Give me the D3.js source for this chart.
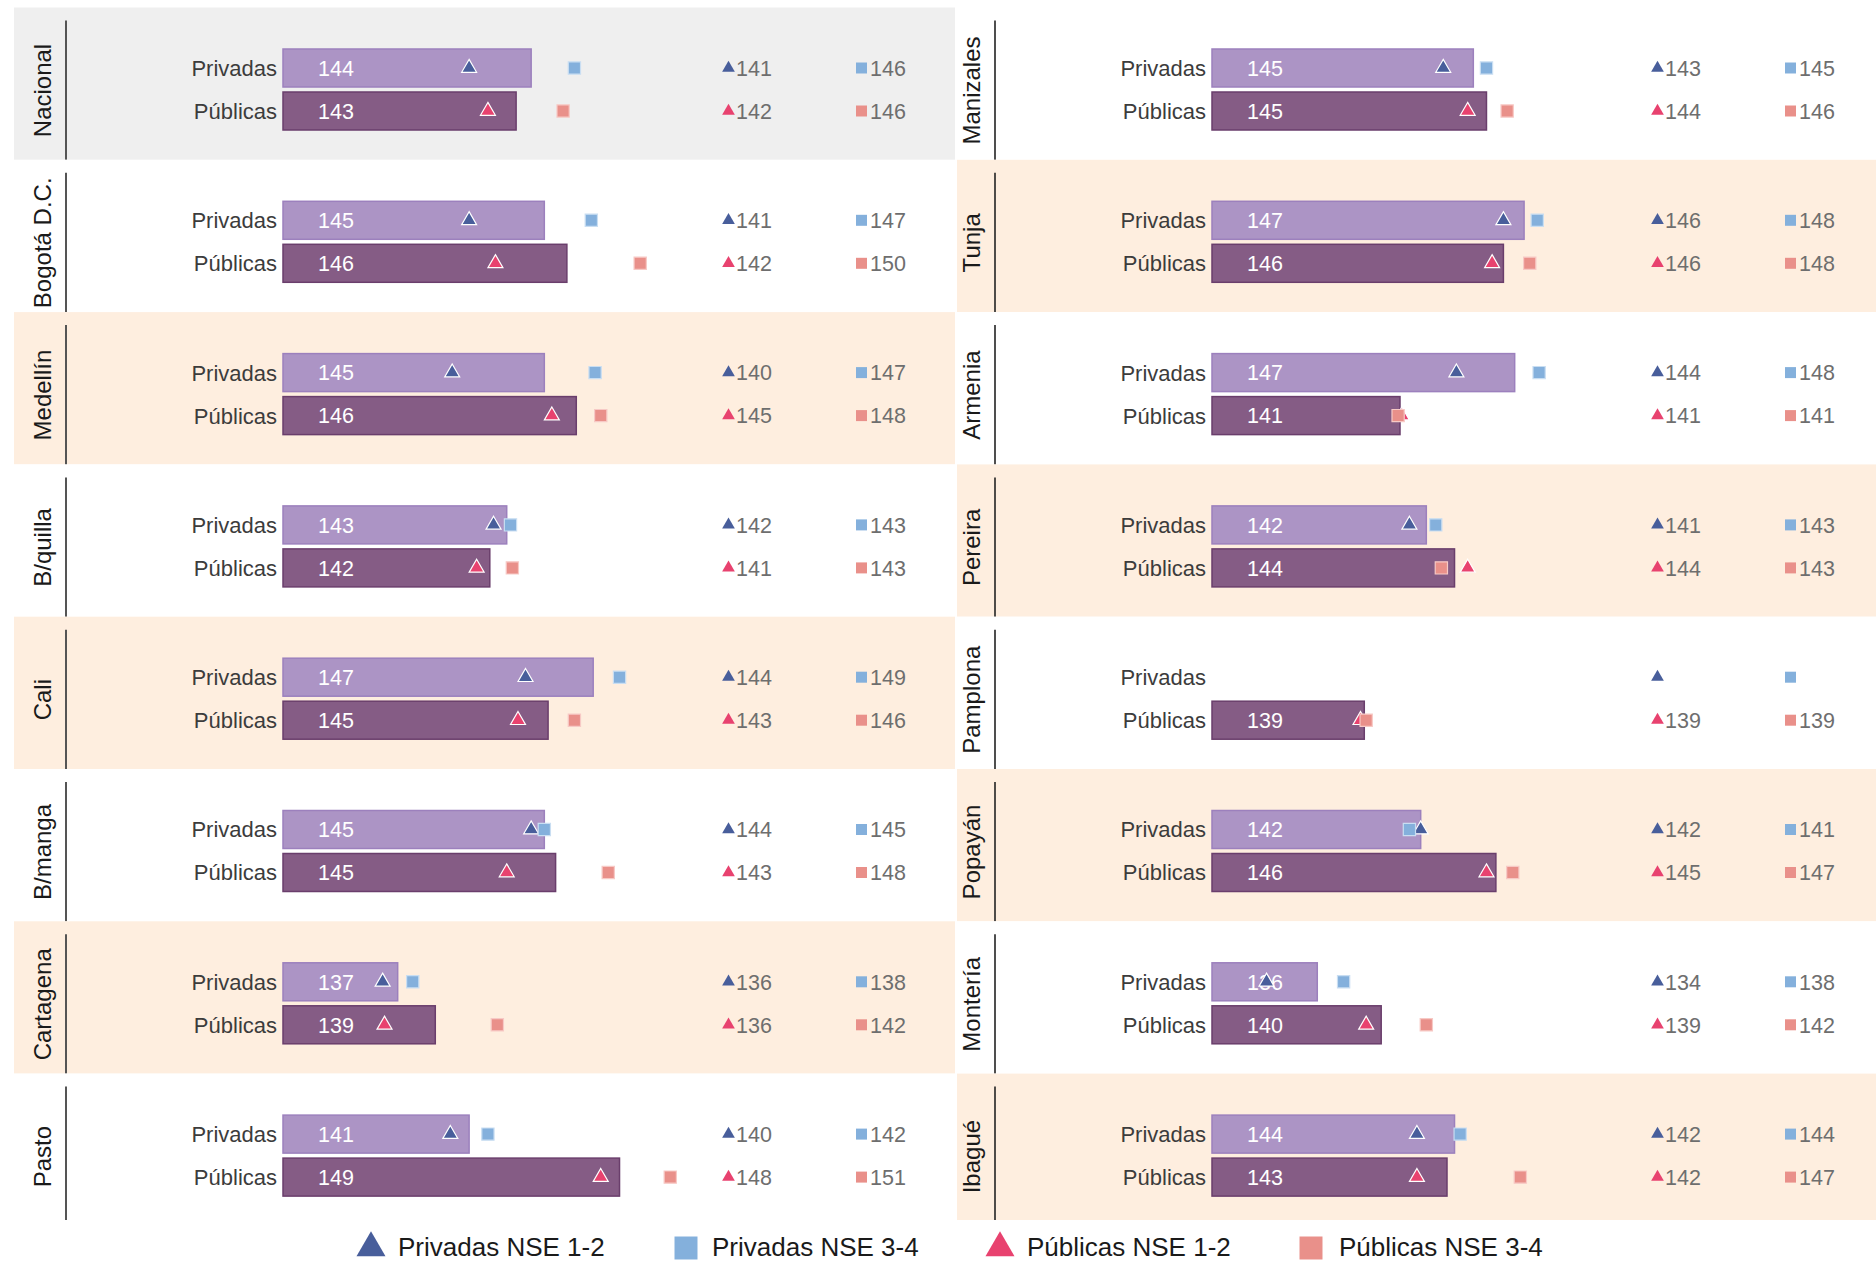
<!DOCTYPE html>
<html><head><meta charset="utf-8">
<script src="https://cdn.jsdelivr.net/npm/d3@7"></script>
<style>
body{margin:0;background:#fff;}
svg{display:block;font-family:"Liberation Sans",Arial,Helvetica,sans-serif;}
</style>
</head><body>
<svg id="chart" width="1876" height="1261"></svg>
<script>
// ---------- data ----------
const cities = ["Nacional","Bogotá D.C.","Medellín","B/quilla","Cali","B/manga","Cartagena","Pasto",
                "Manizales","Tunja","Armenia","Pereira","Pamplona","Popayán","Montería","Ibagué"];
const rowLabels = ["Privadas","Públicas"];
const legendLabels = ["Privadas NSE 1-2","Privadas NSE 3-4","Públicas NSE 1-2","Públicas NSE 3-4"];

// Privadas: overall mean (bar), NSE 1-2 (triangle), NSE 3-4 (square)
const privTotal = [143.9,144.6,144.6,142.6,147.2,144.6,136.8,140.6, 144.6,147.3,146.8,142.1,null,141.8,136.3,143.6];
const privNSE12 = [140.6,140.6,139.7,141.9,143.6,143.9,136.0,139.6, 143.0,146.2,143.7,141.2,null,141.8,133.6,141.6];
const privNSE34 = [146.2,147.1,147.3,142.8,148.6,144.6,137.6,141.6, 145.3,148.0,148.1,142.6,null,141.2,137.7,143.9];
// Públicas
const pubTotal  = [143.1,145.8,146.3,141.7,144.8,145.2,138.8,148.6, 145.3,146.2,140.7,143.6,138.8,145.8,139.7,143.2];
const pubNSE12  = [141.6,142.0,145.0,141.0,143.2,142.6,136.1,147.6, 144.3,145.6,140.8,144.3,138.6,145.3,138.9,141.6];
const pubNSE34  = [145.6,149.7,147.6,142.9,146.2,148.0,142.1,151.3, 146.4,147.6,140.6,142.9,138.9,146.7,142.1,147.1];

// ---------- styles / layout ----------
const C = {
  privBar:"#ac94c5", privBarStroke:"#9c80bd",
  pubBar:"#855c85", pubBarStroke:"#6a3e6c",
  tri12Priv:"#485e9b", sq34Priv:"#84b0dc", sq34PrivStroke:"#c9def2",
  tri12Pub:"#e8426f", sq34Pub:"#e9908a", sq34PubStroke:"#f7c9c5",
  gray:"#efefef", peach:"#feeedf", white:"#ffffff",
  rowLabel:"#3c3c3c", valLabel:"#6e6e6e", city:"#1a1a1a"
};
const svg = d3.select("#chart");
const fmt = d3.format(".0f");
const x = d3.scaleLinear().domain([130.7, 151.7]).range([0, 394.8]);

const colOffset = [0, 929];
const top0 = 7.5, panelH = 152.3, chartBottom = 1220;
const barX0 = 283, barH = 38;

const rows = [
  {lab:0, total:privTotal, n12:privNSE12, n34:privNSE34, fill:C.privBar, stroke:C.privBarStroke,
   tri:C.tri12Priv, sq:C.sq34Priv, sqStroke:C.sq34PrivStroke, dy:60.5},
  {lab:1, total:pubTotal, n12:pubNSE12, n34:pubNSE34, fill:C.pubBar, stroke:C.pubBarStroke,
   tri:C.tri12Pub, sq:C.sq34Pub, sqStroke:C.sq34PubStroke, dy:103.5}
];

const triPlot = d3.symbol().type(d3.symbolTriangle).size(97)();
const sqPlot  = d3.symbol().type(d3.symbolSquare).size(150)();
const triLab  = d3.symbol().type(d3.symbolTriangle).size(70)();
const sqLab   = d3.symbol().type(d3.symbolSquare).size(121)();

cities.forEach((city, k) => {
  const col = k < 8 ? 0 : 1, i = k % 8, ox = colOffset[col];
  const top = top0 + i * panelH;
  const h = Math.min(panelH, chartBottom - top);
  let bg;
  if (col === 0) bg = i === 0 ? C.gray : (i % 2 === 0 ? C.peach : C.white);
  else bg = i % 2 === 1 ? C.peach : C.white;
  const g = svg.append("g");
  g.append("rect").attr("x", col === 0 ? 14 : 957).attr("y", top)
    .attr("width", col === 0 ? 941 : 919).attr("height", h).attr("fill", bg);
  g.append("line").attr("x1", 66 + ox).attr("x2", 66 + ox)
    .attr("y1", top + 13).attr("y2", top + h)
    .attr("stroke", col === 0 ? "#555" : "#222").attr("stroke-width", col === 0 ? 2 : 1.6);
  const ly = top + 83;
  g.append("text").attr("transform", `translate(${42 + ox},${ly}) rotate(-90)`)
    .attr("text-anchor", "middle").attr("dy", "0.36em")
    .attr("font-size", 24).attr("fill", C.city).text(city);

  rows.forEach(r => {
    const cy = top + r.dy;
    const bx = barX0 + ox;
    g.append("text").attr("x", bx - 6).attr("y", cy).attr("dy", "0.36em")
      .attr("text-anchor", "end").attr("font-size", 22).attr("fill", C.rowLabel)
      .text(rowLabels[r.lab]);
    const v = r.total[k], a = r.n12[k], b = r.n34[k];
    if (v != null) {
      g.append("rect").attr("x", bx).attr("y", cy - barH / 2)
        .attr("width", x(v)).attr("height", barH)
        .attr("fill", r.fill).attr("stroke", r.stroke).attr("stroke-width", 1.5);
      g.append("text").attr("x", bx + 35).attr("y", cy).attr("dy", "0.36em")
        .attr("font-size", 21.5).attr("fill", "#fff").text(fmt(v));
    }
    if (a != null) {
      g.append("path").attr("d", triPlot)
        .attr("transform", `translate(${bx + x(a)},${cy})`)
        .attr("fill", r.tri).attr("stroke", "#fff").attr("stroke-width", 1.2);
    }
    if (b != null) {
      g.append("path").attr("d", sqPlot)
        .attr("transform", `translate(${bx + x(b)},${cy})`)
        .attr("fill", r.sq).attr("stroke", r.sqStroke).attr("stroke-width", 1.2);
    }
    // value columns
    g.append("path").attr("d", triLab).attr("transform", `translate(${728.5 + ox},${cy})`).attr("fill", r.tri);
    if (a != null)
      g.append("text").attr("x", 736 + ox).attr("y", cy).attr("dy", "0.36em")
        .attr("font-size", 21.5).attr("fill", C.valLabel).text(fmt(a));
    g.append("path").attr("d", sqLab).attr("transform", `translate(${861.5 + ox},${cy})`).attr("fill", r.sq);
    if (b != null)
      g.append("text").attr("x", 870 + ox).attr("y", cy).attr("dy", "0.36em")
        .attr("font-size", 21.5).attr("fill", C.valLabel).text(fmt(b));
  });
});

// ---------- legend ----------
const legY = 1248;
const legSym = [
  {d:d3.symbol().type(d3.symbolTriangle).size(364)(), fill:C.tri12Priv, x:371, tx:398},
  {d:d3.symbol().type(d3.symbolSquare).size(529)(),   fill:C.sq34Priv,  x:686, tx:712},
  {d:d3.symbol().type(d3.symbolTriangle).size(364)(), fill:C.tri12Pub,  x:1000, tx:1027},
  {d:d3.symbol().type(d3.symbolSquare).size(529)(),   fill:C.sq34Pub,   x:1311, tx:1339}
];
const leg = svg.append("g");
legSym.forEach((s, j) => {
  leg.append("path").attr("d", s.d).attr("transform", `translate(${s.x},${legY})`).attr("fill", s.fill);
  leg.append("text").attr("x", s.tx).attr("y", legY - 1).attr("dy", "0.36em")
    .attr("font-size", 26).attr("fill", "#1a1a1a").text(legendLabels[j]);
});
</script>
</body></html>
